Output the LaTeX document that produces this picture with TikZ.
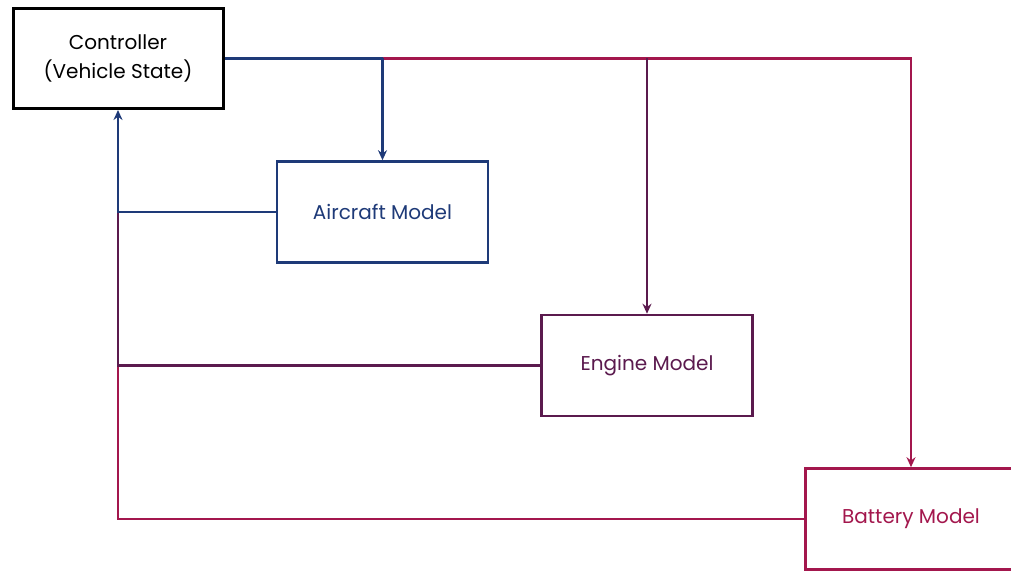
\documentclass[tikz,border=0pt]{standalone}
\usepackage{fontspec}
\setmainfont{Poppins}
\usetikzlibrary{arrows.meta}
\definecolor{cblue}{HTML}{1E3A78}
\definecolor{cpurp}{HTML}{5B1A4E}
\definecolor{cred}{HTML}{A3174D}
\begin{document}
\begin{tikzpicture}[x=1pt,y=-1pt,
  box/.style={draw, line width=2.6pt, minimum width=211pt, minimum height=101pt, inner sep=0pt, align=center, font=\fontsize{20}{29}\selectfont},
  conn/.style={line width=2.8pt},
  tip/.style={-{Stealth[length=10pt,width=9pt]}}]
\fill[white] (0,0) rectangle (1011,572);
\useasboundingbox (0,0) rectangle (1011,572);
\clip (0,0) rectangle (1011,572);
\node[box, line width=3pt, minimum width=210pt, minimum height=100pt] (ctrl) at (118,58.5) {Controller\\(Vehicle State)};
\node[box, draw=cblue, text=cblue] (air) at (382.5,212) {Aircraft Model};
\node[box, draw=cpurp, text=cpurp] (eng) at (647,365.5) {Engine Model};
\node[box, draw=cred, text=cred] (bat) at (911,519) {Battery Model};
\coordinate (jA) at (air.north |- ctrl.east);
\coordinate (jE) at (eng.north |- ctrl.east);
\coordinate (jB) at (bat.north |- ctrl.east);
\coordinate (fA) at (air.west -| ctrl.south);
\coordinate (fE) at (eng.west -| ctrl.south);
\coordinate (fB) at (bat.west -| ctrl.south);
% forward
\draw[conn, cred, tip] (jA) -- (jB) -- (bat.north);
\draw[conn, cblue] (ctrl.east) -- (jA);
\draw[conn, cblue, tip] (jA) -- (air.north);
\draw[conn, cpurp, tip] (jE) -- (eng.north);
% feedback
\draw[conn, cred] (bat.west) -- (fB) -- (fE);
\draw[conn, cpurp] (eng.west) -- (fE) -- (fA);
\draw[conn, cblue, tip] (air.west) -- (fA) -- (ctrl.south);
\end{tikzpicture}
\end{document}
